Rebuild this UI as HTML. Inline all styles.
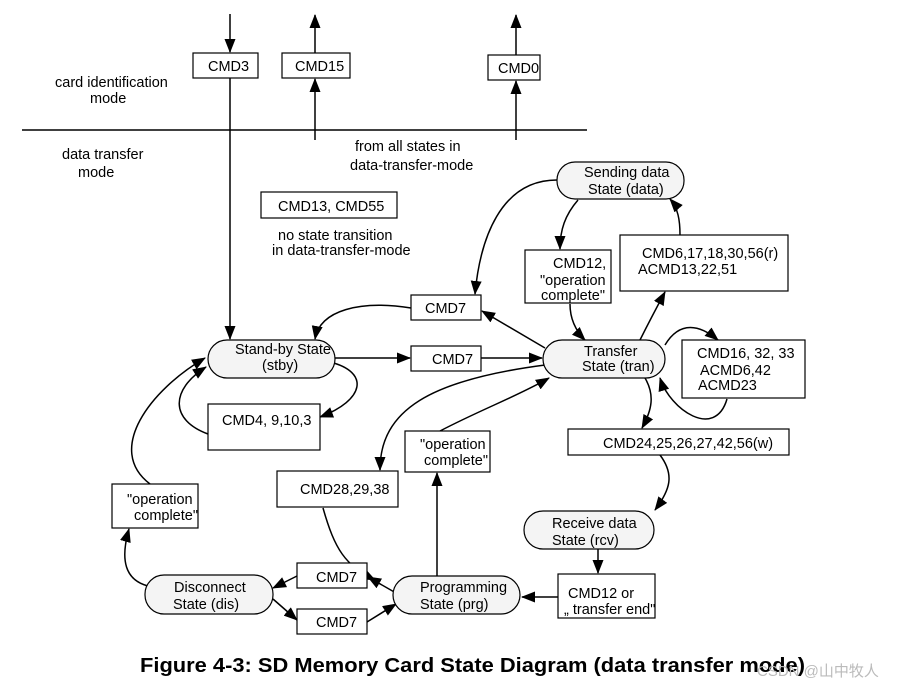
<!DOCTYPE html>
<html><head><meta charset="utf-8"><style>
body{margin:0;background:#fff}
svg text{font-family:"Liberation Sans",Arial,sans-serif;font-size:14.5px;fill:#000}
</style></head><body>
<svg width="899" height="689" viewBox="0 0 899 689" xmlns="http://www.w3.org/2000/svg">
<defs><marker id="a" markerWidth="14" markerHeight="11" refX="13" refY="5.5" orient="auto" markerUnits="userSpaceOnUse"><path d="M0,0 L14,5.5 L0,11 z" fill="#000"/></marker></defs>
<g fill="none" stroke="#000" stroke-width="1.5">
<line x1="22" y1="130" x2="587" y2="130"/>
<line x1="230" y1="14" x2="230" y2="52" marker-end="url(#a)"/>
<line x1="230" y1="78" x2="230" y2="339" marker-end="url(#a)"/>
<line x1="315" y1="140" x2="315" y2="79" marker-end="url(#a)"/>
<line x1="315" y1="53" x2="315" y2="15" marker-end="url(#a)"/>
<line x1="516" y1="140" x2="516" y2="81" marker-end="url(#a)"/>
<line x1="516" y1="55" x2="516" y2="15" marker-end="url(#a)"/>
<path d="M411,308 C360,300 320,310 315,339" marker-end="url(#a)"/>
<line x1="335" y1="358" x2="410" y2="358" marker-end="url(#a)"/>
<line x1="481" y1="358" x2="542" y2="358" marker-end="url(#a)"/>
<line x1="545" y1="348" x2="482" y2="311" marker-end="url(#a)"/>
<path d="M330,362 C370,372 365,400 320,417" marker-end="url(#a)"/>
<path d="M208,434 C170,420 170,390 206,367" marker-end="url(#a)"/>
<path d="M150,484 C105,450 150,390 205,358" marker-end="url(#a)"/>
<path d="M557,180 C500,180 480,240 475,294" marker-end="url(#a)"/>
<path d="M578,200 C565,215 560,230 560,249" marker-end="url(#a)"/>
<path d="M570,304 C570,318 575,330 585,340" marker-end="url(#a)"/>
<path d="M640,340 C650,320 658,305 665,292" marker-end="url(#a)"/>
<path d="M680,235 C680,220 678,208 670,199" marker-end="url(#a)"/>
<path d="M665,345 C680,320 700,325 718,340" marker-end="url(#a)"/>
<path d="M727,399 C715,440 670,410 660,378" marker-end="url(#a)"/>
<path d="M645,378 C655,395 652,410 642,428" marker-end="url(#a)"/>
<path d="M660,455 C675,475 670,490 655,510" marker-end="url(#a)"/>
<path d="M545,365 C430,380 380,410 380,470" marker-end="url(#a)"/>
<path d="M440,431 C480,410 520,395 549,378" marker-end="url(#a)"/>
<line x1="598" y1="549" x2="598" y2="573" marker-end="url(#a)"/>
<line x1="558" y1="597" x2="522" y2="597" marker-end="url(#a)"/>
<path d="M323,508 C335,550 345,565 375,580" marker-end="url(#a)"/>
<line x1="437" y1="576" x2="437" y2="473" marker-end="url(#a)"/>
<line x1="396" y1="593" x2="368" y2="577" marker-end="url(#a)"/>
<line x1="297" y1="576" x2="273" y2="588" marker-end="url(#a)"/>
<line x1="273" y1="599" x2="297" y2="620" marker-end="url(#a)"/>
<line x1="367" y1="622" x2="396" y2="604" marker-end="url(#a)"/>
<path d="M148,586 C125,580 120,560 129,529" marker-end="url(#a)"/>
</g>
<g fill="#fff" stroke="#000" stroke-width="1.2">
<rect x="193" y="53" width="65" height="25"/>
<rect x="282" y="53" width="68" height="25"/>
<rect x="488" y="55" width="52" height="25"/>
<rect x="261" y="192" width="136" height="26"/>
<rect x="411" y="295" width="70" height="25"/>
<rect x="411" y="346" width="70" height="25"/>
<rect x="525" y="250" width="86" height="53"/>
<rect x="620" y="235" width="168" height="56"/>
<rect x="682" y="340" width="123" height="58"/>
<rect x="568" y="429" width="221" height="26"/>
<rect x="558" y="574" width="97" height="44"/>
<rect x="277" y="471" width="121" height="36"/>
<rect x="405" y="431" width="85" height="41"/>
<rect x="112" y="484" width="86" height="44"/>
<rect x="208" y="404" width="112" height="46"/>
<rect x="297" y="563" width="70" height="25"/>
<rect x="297" y="609" width="70" height="25"/>
</g>
<g fill="#f4f4f4" stroke="#000" stroke-width="1.2">
<rect x="208" y="340" width="127" height="38" rx="19"/>
<rect x="543" y="340" width="122" height="38" rx="19"/>
<rect x="557" y="162" width="127" height="37" rx="18"/>
<rect x="524" y="511" width="130" height="38" rx="19"/>
<rect x="393" y="576" width="127" height="38" rx="19"/>
<rect x="145" y="575" width="128" height="39" rx="19"/>
</g>
<text x="208" y="71">CMD3</text>
<text x="295" y="71">CMD15</text>
<text x="498" y="73">CMD0</text>
<text x="55" y="87">card identification</text>
<text x="90" y="103">mode</text>
<text x="62" y="159">data transfer</text>
<text x="78" y="177">mode</text>
<text x="355" y="151">from all states in</text>
<text x="350" y="170">data-transfer-mode</text>
<text x="278" y="211">CMD13, CMD55</text>
<text x="278" y="240">no state transition</text>
<text x="272" y="255">in data-transfer-mode</text>
<text x="425" y="313">CMD7</text>
<text x="432" y="364">CMD7</text>
<text x="235" y="354">Stand-by State</text>
<text x="262" y="370">(stby)</text>
<text x="584" y="356">Transfer</text>
<text x="582" y="371">State (tran)</text>
<text x="584" y="177">Sending data</text>
<text x="588" y="194">State (data)</text>
<text x="553" y="268">CMD12,</text>
<text x="540" y="285">"operation</text>
<text x="541" y="300">complete"</text>
<text x="642" y="258">CMD6,17,18,30,56(r)</text>
<text x="638" y="274">ACMD13,22,51</text>
<text x="697" y="358">CMD16, 32, 33</text>
<text x="700" y="375">ACMD6,42</text>
<text x="698" y="390">ACMD23</text>
<text x="603" y="448">CMD24,25,26,27,42,56(w)</text>
<text x="552" y="528">Receive data</text>
<text x="552" y="545">State (rcv)</text>
<text x="568" y="598">CMD12 or</text>
<text x="564" y="614">„ transfer end"</text>
<text x="420" y="592">Programming</text>
<text x="420" y="609">State (prg)</text>
<text x="174" y="592">Disconnect</text>
<text x="173" y="609">State (dis)</text>
<text x="316" y="582">CMD7</text>
<text x="316" y="627">CMD7</text>
<text x="300" y="494">CMD28,29,38</text>
<text x="420" y="449">"operation</text>
<text x="424" y="465">complete"</text>
<text x="127" y="504">"operation</text>
<text x="134" y="520">complete"</text>
<text x="222" y="425">CMD4, 9,10,3</text>
<text x="140" y="672" textLength="665" lengthAdjust="spacingAndGlyphs" style="font-size:20px;font-weight:bold">Figure 4-3: SD Memory Card State Diagram (data transfer mode)</text>
<text x="757" y="676" style="font-size:15px;fill:#bbb;font-family:'Liberation Sans','Noto Sans CJK SC',sans-serif">CSDN @山中牧人</text>
</svg>
</body></html>
